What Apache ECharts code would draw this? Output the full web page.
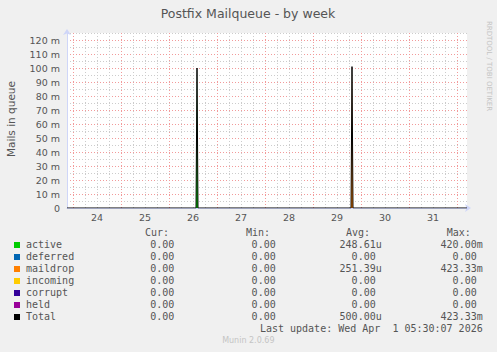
<!DOCTYPE html>
<html>
<head>
<meta charset="utf-8">
<script src="https://cdn.jsdelivr.net/npm/echarts@6/dist/echarts.min.js"></script>
<style>
html,body{margin:0;padding:0;background:#F0F0F0;}
#c{width:497px;height:352px;}
</style>
</head>
<body>
<div id="c"></div>
<script>
// ---- data (hours since Mar 24 00:00) ----
const sampleHours  = [-3, 61.5, 62, 62.5, 139, 139.5, 140, 197];
const activeVals   = [0, 0, 100, 0, 0, 0, 0, 0];
const deferredVals = [0, 0, 0, 0, 0, 0, 0, 0];
const maildropVals = [0, 0, 0, 0, 0, 101, 0, 0];
const incomingVals = [0, 0, 0, 0, 0, 0, 0, 0];
const corruptVals  = [0, 0, 0, 0, 0, 0, 0, 0];
const heldVals     = [0, 0, 0, 0, 0, 0, 0, 0];
const totalVals    = [0, 0, 100, 0, 0, 101, 0, 0];

const dayLabels    = ['24', '25', '26', '27', '28', '29', '30', '31'];
const dayNoonHours = [12, 36, 60, 84, 108, 132, 156, 180];
const yTickValues  = [0, 10, 20, 30, 40, 50, 60, 70, 80, 90, 100, 110, 120];
const yTickLabels  = ['0', '10 m', '20 m', '30 m', '40 m', '50 m', '60 m', '70 m', '80 m', '90 m', '100 m', '110 m', '120 m'];

const seriesNames  = ['active', 'deferred', 'maildrop', 'incoming', 'corrupt', 'held', 'Total'];
const seriesColors = ['#00CC00', '#0066B3', '#FF8000', '#FFCC00', '#330099', '#990099', '#000000'];
const curText = ['0.00', '0.00', '0.00', '0.00', '0.00', '0.00', '0.00'];
const minText = ['0.00', '0.00', '0.00', '0.00', '0.00', '0.00', '0.00'];
const avgText = ['248.61u', '0.00', '251.39u', '0.00', '0.00', '0.00', '500.00u'];
const maxText = ['420.00m', '0.00', '423.33m', '0.00', '0.00', '0.00', '423.33m'];
const lastUpdate = 'Last update: Wed Apr\u00a0 1 05:30:07 2026';

// ---- layout ----
const X_MIN = -3, X_MAX = 197;
const gridHours = [];
for (let h = 0; h <= 192; h += 6) gridHours.push(h);

const FONT = 'DejaVu Sans';
const MONO = 'DejaVu Sans Mono';
const TXT = '#555555';
const MAJOR = '#f29a9a';
const MINOR = '#cccccc';
const AXIS = '#CFD6F8';

// areas (the values never overlap in time, so they are drawn from the zero line)
const areaVals = [activeVals, deferredVals, maildropVals, incomingVals, corruptVals, heldVals];
const series = areaVals.map((vals, i) => ({
  name: seriesNames[i],
  type: 'line',
  xAxisIndex: 0, yAxisIndex: 0,
  symbol: 'none',
  lineStyle: { width: 0 },
  areaStyle: { color: seriesColors[i], opacity: 1, origin: 'start' },
  data: sampleHours.map((h, k) => [h, vals[k]]),
  animation: false,
  z: 2
}));
series.push({
  name: 'Total',
  type: 'line',
  xAxisIndex: 0, yAxisIndex: 0,
  symbol: 'none',
  lineStyle: { width: 1, color: '#000000' },
  data: sampleHours.map((h, k) => [h, totalVals[k]]),
  animation: false,
  z: 3
});

const graphics = [];
graphics.push({ type: 'text', x: 248, y: 13.5, style: { text: 'Postfix Mailqueue - by week', font: '12.5px "' + FONT + '"', fill: TXT, align: 'center', verticalAlign: 'middle' } });
graphics.push({ type: 'text', x: 11, y: 119, rotation: Math.PI / 2, style: { text: 'Mails in queue', font: '10.5px "' + FONT + '"', fill: TXT, align: 'center', verticalAlign: 'middle' } });
graphics.push({ type: 'text', x: 489, y: 66, rotation: -Math.PI / 2, style: { text: 'RRDTOOL / TOBI OETIKER', font: '7px "' + FONT + '"', fill: '#c4c4c4', align: 'center', verticalAlign: 'middle' } });

const headers = ['Cur:', 'Min:', 'Avg:', 'Max:'];
const headerX = [145, 246, 346, 446.7];
headers.forEach((h, i) => graphics.push({ type: 'text', x: headerX[i], y: 232.5, style: { text: h, font: '10px "' + MONO + '"', fill: TXT, align: 'left', verticalAlign: 'middle' } }));

const colRightPlain = [174.3, 275.7, 375.7, 476.7];
const cols = [curText, minText, avgText, maxText];
seriesNames.forEach((name, r) => {
  const y = 244.5 + 12 * r;
  graphics.push({ type: 'rect', shape: { x: 14, y: y - 2.5, width: 6, height: 6 }, style: { fill: seriesColors[r] } });
  graphics.push({ type: 'text', x: 26, y: y, style: { text: name, font: '10px "' + MONO + '"', fill: TXT, align: 'left', verticalAlign: 'middle' } });
  cols.forEach((col, c) => {
    const t = col[r];
    const hasSuffix = /[a-zA-Z]$/.test(t);
    graphics.push({ type: 'text', x: colRightPlain[c] + (hasSuffix ? 6.02 : 0), y: y, style: { text: t, font: '10px "' + MONO + '"', fill: TXT, align: 'right', verticalAlign: 'middle' } });
  });
});
graphics.push({ type: 'text', x: 482.7, y: 328.5, style: { text: lastUpdate, font: '10px "' + MONO + '"', fill: TXT, align: 'right', verticalAlign: 'middle' } });
graphics.push({ type: 'text', x: 248.3, y: 340.8, style: { text: 'Munin 2.0.69', font: '8px "' + FONT + '"', fill: '#c4c4c4', align: 'center', verticalAlign: 'middle' } });

const chart = echarts.init(document.getElementById('c'), null, { renderer: 'svg' });
chart.setOption({
  backgroundColor: '#F0F0F0',
  animation: false,
  grid: { left: 67, top: 33, width: 400, height: 175, show: true, backgroundColor: '#FFFFFF', borderWidth: 0, containLabel: false, outerBoundsMode: 'none' },
  xAxis: [
    {
      type: 'value', min: X_MIN, max: X_MAX, position: 'bottom',
      axisLine: { show: true, onZero: false, lineStyle: { color: AXIS, width: 1 }, symbol: ['none', 'arrow'], symbolSize: [6, 6], symbolOffset: [0, 4] },
      axisTick: { show: false, customValues: gridHours },
      axisLabel: { show: false },
      splitLine: { show: true, lineStyle: { color: [MAJOR, MINOR, MINOR, MINOR], type: [1, 2], width: 1 } }
    },
    {
      type: 'value', min: X_MIN, max: X_MAX, position: 'bottom',
      axisLine: { show: false, onZero: false },
      axisTick: { show: false },
      splitLine: { show: false },
      axisLabel: {
        show: true, customValues: dayNoonHours, margin: 4,
        color: TXT, fontFamily: FONT, fontSize: 9.5,
        formatter: v => dayLabels[dayNoonHours.indexOf(v)]
      }
    }
  ],
  yAxis: [
    {
      type: 'value', min: 0, max: 125, interval: 5,
      axisLine: { show: true, onZero: false, lineStyle: { color: AXIS, width: 1 }, symbol: ['none', 'arrow'], symbolSize: [6, 6], symbolOffset: [0, 4] },
      axisTick: { show: false },
      axisLabel: {
        show: true, customValues: yTickValues, margin: 7,
        color: TXT, fontFamily: FONT, fontSize: 9.5,
        formatter: v => yTickLabels[yTickValues.indexOf(v)]
      },
      splitLine: { show: true, lineStyle: { color: [MAJOR, MINOR], type: [1, 2], width: 1 } }
    }
  ],
  series: series,
  graphic: graphics
});
</script>
</body>
</html>
